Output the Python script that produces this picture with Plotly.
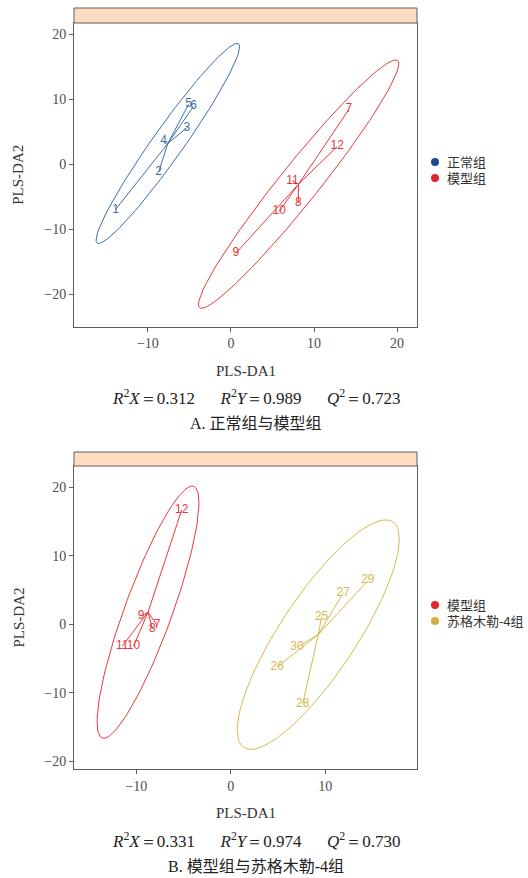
import numpy as np
import plotly.graph_objects as go

# ---- PLS-DA scores -------------------------------------------------------
# Panel A: 正常组 vs 模型组
a_normal_id = ["1", "2", "3", "4", "5", "6"]
a_normal_x = [-13.9, -8.7, -5.3, -8.1, -5.1, -4.5]
a_normal_y = [-7.0, -1.2, 5.6, 3.5, 9.2, 8.9]

a_model_id = ["7", "8", "9", "10", "11", "12"]
a_model_x = [14.2, 8.1, 0.6, 5.8, 7.4, 12.8]
a_model_y = [8.4, -6.0, -13.7, -7.3, -2.6, 2.7]

# Panel B: 模型组 vs 苏格木勒-4组
b_model_id = ["7", "8", "9", "10", "11", "12"]
b_model_x = [-7.8, -8.3, -9.5, -10.3, -11.5, -5.2]
b_model_y = [-0.15, -0.7, 1.2, -3.2, -3.2, 16.7]

b_sgml_id = ["25", "26", "27", "28", "29", "30"]
b_sgml_x = [9.6, 4.9, 11.9, 7.6, 14.5, 7.0]
b_sgml_y = [1.1, -6.2, 4.6, -11.6, 6.4, -3.3]

group_names_a = ["正常组", "模型组"]
group_names_b = ["模型组", "苏格木勒-4组"]

stats_a = ["0.312", "0.989", "0.723"]
stats_b = ["0.331", "0.974", "0.730"]
caption_a = "A. 正常组与模型组"
caption_b = "B. 模型组与苏格木勒-4组"

tick_vals_x = [-10, 0, 10, 20]
tick_vals_y = [-20, -10, 0, 10, 20]

# ---- colours ---------------------------------------------------------------
BLUE, BLUE_DOT = "#3E6FA8", "#1F4B8E"
RED, RED_DOT = "#E8383D", "#E3262B"
GOLD, GOLD_DOT = "#D6BA50", "#D2AF3C"
FRAME = "#5E5E5E"
STRIP = "#FDDCC4"

W, H = 528, 878


def ellipse(xs, ys, level=0.95, segments=120):
    """Normal-theory confidence ellipse of a group of scores."""
    pts = np.column_stack([xs, ys])
    center = pts.mean(axis=0)
    shape = np.cov(pts.T, ddof=1)
    radius = np.sqrt(-2.0 * np.log(1 - level))  # sqrt of chi-square(2) quantile
    ang = np.linspace(0, 2 * np.pi, segments + 1)
    circ = np.column_stack([np.cos(ang), np.sin(ang)])
    L = np.linalg.cholesky(shape)
    e = center + radius * circ @ L.T
    return e[:, 0], e[:, 1]


def px_x(p):
    return p / W


def px_y(p):
    return 1 - p / H


fig = go.Figure()


def add_group(xs, ys, ids, color, xa, ya):
    cx, cy = float(np.mean(xs)), float(np.mean(ys))
    # spokes from group centroid to each sample
    sx, sy = [], []
    for x, y in zip(xs, ys):
        sx += [cx, x, None]
        sy += [cy, y, None]
    fig.add_trace(go.Scatter(x=sx, y=sy, mode="lines", line=dict(color=color, width=1),
                             xaxis=xa, yaxis=ya, showlegend=False, hoverinfo="skip"))
    ex, ey = ellipse(np.array(xs), np.array(ys))
    fig.add_trace(go.Scatter(x=ex, y=ey, mode="lines", line=dict(color=color, width=1),
                             xaxis=xa, yaxis=ya, showlegend=False, hoverinfo="skip"))
    fig.add_trace(go.Scatter(x=xs, y=ys, mode="text", text=ids,
                             textfont=dict(family="Liberation Sans", size=12, color=color),
                             textposition="middle center",
                             xaxis=xa, yaxis=ya, showlegend=False))


add_group(a_normal_x, a_normal_y, a_normal_id, BLUE, "x", "y")
add_group(a_model_x, a_model_y, a_model_id, RED, "x", "y")
add_group(b_model_x, b_model_y, b_model_id, RED, "x2", "y2")
add_group(b_sgml_x, b_sgml_y, b_sgml_id, GOLD, "x2", "y2")

# panel geometry in pixels: (left, right, strip_top, plot_top, plot_bottom)
panels = [(74, 417, 8, 23, 326.5), (74, 417, 452, 466, 769)]

axis_common = dict(showgrid=False, zeroline=False, showline=True, linecolor=FRAME,
                   linewidth=1, mirror=True, ticks="outside", ticklen=4, tickcolor=FRAME,
                   tickfont=dict(family="Liberation Serif", size=14, color="#4D4D4D"))

l, r, st, pt, pb = panels[0]
fig.update_layout(
    xaxis=dict(axis_common, domain=[px_x(l), px_x(r)], range=[-18.9, 22.4],
               tickvals=tick_vals_x, anchor="y"),
    yaxis=dict(axis_common, domain=[px_y(pb), px_y(pt)], range=[-25.0, 21.7],
               tickvals=tick_vals_y, anchor="x"),
)
l, r, st, pt, pb = panels[1]
fig.update_layout(
    xaxis2=dict(axis_common, domain=[px_x(l), px_x(r)], range=[-16.6, 19.7],
                tickvals=tick_vals_x[:3], anchor="y2"),
    yaxis2=dict(axis_common, domain=[px_y(pb), px_y(pt)], range=[-21.1, 23.1],
                tickvals=tick_vals_y, anchor="x2"),
)

shapes, annos = [], []


def note(x, y, text, font, xanchor="center", angle=0):
    annos.append(dict(xref="paper", yref="paper", x=px_x(x), y=px_y(y), text=text,
                      showarrow=False, xanchor=xanchor, yanchor="middle",
                      textangle=angle, font=font))


title_font = dict(family="Liberation Serif", size=15, color="#333333")
for (l, r, st, pt, pb) in panels:
    shapes.append(dict(type="rect", xref="paper", yref="paper",
                       x0=px_x(l), x1=px_x(r), y0=px_y(pt), y1=px_y(st),
                       fillcolor=STRIP, line=dict(color=FRAME, width=1)))
    note((l + r) / 2, pb + 44, "PLS-DA1", title_font)
    note(18, (pt + pb) / 2, "PLS-DA2", title_font, angle=-90)


def stat_line(vals):
    return ("<i>R</i><sup>2</sup><i>X</i>＝%s&#8195;&#8194;<i>R</i><sup>2</sup><i>Y</i>＝%s"
            "&#8195;&#8194;<i>Q</i><sup>2</sup>＝%s" % tuple(vals))


for vals, cap, y_stat, y_cap in [(stats_a, caption_a, 397, 424), (stats_b, caption_b, 840, 866)]:
    note(256, y_stat, stat_line(vals), dict(family="Liberation Serif", size=17, color="#222222"))
    note(256, y_cap, cap, dict(family="Liberation Serif, Noto Sans CJK SC", size=16, color="#222222"))

# legends
legend_items = [(group_names_a, [BLUE_DOT, RED_DOT], [162, 178]),
                (group_names_b, [RED_DOT, GOLD_DOT], [605, 621])]
for names, cols, ys in legend_items:
    for name, col, yy in zip(names, cols, ys):
        shapes.append(dict(type="circle", xref="paper", yref="paper", xsizemode="pixel",
                           ysizemode="pixel", xanchor=px_x(435), yanchor=px_y(yy),
                           x0=-4, x1=4, y0=-4, y1=4, fillcolor=col, line=dict(width=0)))
        note(445, yy, name, dict(family="Liberation Sans, Noto Sans CJK SC", size=13, color="#333333"),
             xanchor="left")

fig.update_layout(width=W, height=H, margin=dict(l=0, r=0, t=0, b=0),
                  paper_bgcolor="white", plot_bgcolor="white",
                  shapes=shapes, annotations=annos, showlegend=False)

fig.write_html("out.html")
